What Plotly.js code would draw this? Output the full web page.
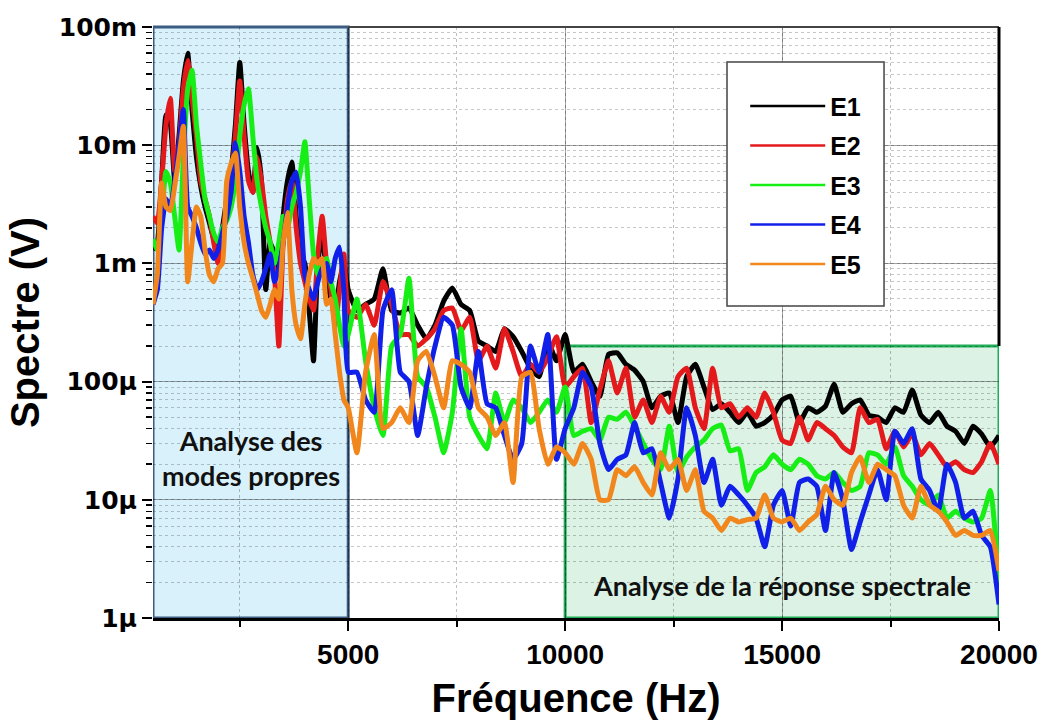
<!DOCTYPE html>
<html>
<head>
<meta charset="utf-8">
<script src="https://cdn.plot.ly/plotly-3.0.1.min.js"></script>
<style>html,body{margin:0;padding:0;background:#fff;}</style>
</head>
<body>
<div id="chart" style="width:1047px;height:720px;"></div>
<script>
// Frequencies (Hz)
const freq = [500,600,700,800,900,1000,1100,1200,1300,1400,1500,1600,1700,1800,1900,2000,2100,2200,2300,2400,2500,2600,2700,2800,2900,3000,3100,3200,3300,3400,3500,3600,3700,3800,3900,4000,4100,4200,4300,4400,4500,4600,4700,4800,4900,5000,
5200,5400,5600,5800,6000,6200,6400,6600,6800,7000,7200,7400,7600,7800,8000,8200,8400,8600,8800,9000,9200,9400,9600,9800,10000,
10200,10400,10600,10800,11000,11200,11400,11600,11800,12000,12200,12400,12600,12800,13000,13200,13400,13600,13800,14000,14200,14400,14600,14800,15000,
15200,15400,15600,15800,16000,16200,16400,16600,16800,17000,17200,17400,17600,17800,18000,18200,18400,18600,18800,19000,19200,19400,19600,19800,20000];

// Spectra in microvolts (µV)
const E1 = [1300,1500,5000,18000,15000,5000,12000,35000,60000,20000,8000,4500,3000,2200,1600,1200,2000,3500,6000,15000,50000,15000,6000,4000,9500,5000,600,1500,1200,800,2500,5000,7200,2500,1200,1000,400,150,1000,1800,800,500,400,700,1000,600,
400,450,500,900,400,380,420,300,230,300,480,620,450,400,220,200,180,280,240,180,130,110,220,150,250,
120,140,100,75,170,175,140,125,100,60,75,80,45,110,140,90,58,65,55,45,55,42,45,52,70,
75,45,60,55,62,95,55,65,70,52,50,45,60,55,85,52,45,55,42,38,30,42,36,28,35];

const E2 = [2500,2200,5000,15000,25000,6000,10000,30000,52000,25000,12000,5000,3500,2500,1500,1000,1800,3000,5000,12000,35000,12000,5000,4000,8000,5000,2500,1500,800,200,1500,3500,5000,2000,1000,700,500,400,1200,2500,1000,600,300,600,1200,400,
350,450,300,700,450,250,250,200,230,280,400,420,270,350,150,200,130,280,180,110,140,120,160,240,90,
110,130,45,85,150,80,130,50,70,45,75,55,110,130,60,40,130,60,65,50,60,50,80,55,32,
30,50,32,45,40,35,28,25,60,45,48,27,38,28,36,24,30,24,19,21,18,17,21,30,20];

const E3 = [1600,1300,2500,6000,4800,2500,1300,8000,30000,43000,15000,7000,3500,2500,1800,1500,2000,2300,3000,5000,12000,22000,30000,12000,5000,3000,2000,1500,1000,1500,2500,2000,3000,4000,6000,10700,3500,1200,800,1000,1100,700,500,300,200,250,
500,150,60,35,200,250,750,110,90,50,25,55,280,50,35,27,80,45,70,60,45,55,70,55,90,
35,38,40,32,50,48,55,42,30,22,18,42,17,23,28,32,40,43,26,27,12,17,19,24,20,
18,22,20,16,15,17,14,12,13,25,24,20,28,16,13,10,9,11,7,8,7,6.5,7,12,2];

const E4 = [450,600,2000,3500,3000,5000,10000,20000,3000,2500,2000,1500,1200,1300,1100,1300,1800,2500,4000,10500,6000,2500,1500,800,600,700,900,1200,700,900,1500,3000,5000,5900,3000,800,600,500,700,900,1000,700,1100,1380,600,120,
120,70,55,400,600,120,100,35,90,200,350,300,90,60,180,65,60,35,22,30,200,120,250,22,40,
60,120,90,30,18,22,24,45,25,27,14,7,15,60,35,14,22,9,13,11,9,7,4,9,12,
6,14,15,13,5.5,17,10,3.8,6.5,11,18,10,38,30,40,15,12,8,20,14,7,8,5,4,1.3];

const E5 = [450,800,4800,3000,2800,4500,8000,14500,700,1500,3000,2500,1300,800,700,900,1000,5000,7000,8600,3000,1500,1000,750,550,400,350,450,600,500,1500,2700,600,300,230,450,800,1100,1000,1100,450,500,250,120,70,60,
25,120,250,40,45,60,45,150,180,110,60,150,140,120,60,50,35,45,14,110,120,40,20,28,25,
20,30,22,10,10,18,16,19,14,11,25,18,22,12,18,8,7,5.5,7,6.5,6.8,7,11,7,6.5,
7,5.5,6.5,7.5,13,10,9,17,23,14,20,18,16,9,7,13,9,8,6.5,5,5.5,5,5,5.5,2.5];

const seriesNames = ['E1','E2','E3','E4','E5'];
const seriesData = [E1,E2,E3,E4,E5];
const seriesColors = ['#000000','#e3191c','#16ee16','#1020e8','#f0861c'];

const xTickVals = [5000,10000,15000,20000];
const xTickText = ['5000','10000','15000','20000'];
const yTickVals = [1e-6,1e-5,1e-4,1e-3,1e-2,1e-1];
const yTickText = ['1µ','10µ','100µ','1m','10m','100m'];

const toVolts = 1e-6;

const dataTraces = seriesNames.map((n,i)=>({
  type:'scatter', mode:'lines', name:n, legendgroup:n, showlegend:false,
  x:freq, y:seriesData[i].map(v=>v*toVolts),
  line:{color:seriesColors[i], width:5, shape:'spline', smoothing:0.45}
}));
// legend entries (thinner key lines, as in the original legend)
const legendTraces = seriesNames.map((n,i)=>({
  type:'scatter', mode:'lines', name:n, legendgroup:n, showlegend:true,
  x:[null], y:[null],
  line:{color:seriesColors[i], width:2.5}
}));

const layout = {
  width:1047, height:720,
  margin:{l:153,r:48,t:27,b:102},
  paper_bgcolor:'#ffffff', plot_bgcolor:'rgba(0,0,0,0)',
  font:{family:'Liberation Sans, Arial, sans-serif', color:'#000'},
  showlegend:true,
  legend:{x:0.70, y:0.905, xanchor:'left', yanchor:'top', bgcolor:'rgba(0,0,0,0)', borderwidth:0,
    font:{family:'Liberation Sans, Arial, sans-serif', size:25, color:'#000', weight:'bold'},
    itemwidth:75, tracegroupgap:4},
  xaxis:{type:'linear', range:[500,20000], tickmode:'array', tickvals:xTickVals, ticktext:xTickText,
    ticks:'outside', ticklen:10, tickwidth:2, tickcolor:'#000',
    showline:true, linecolor:'#000', linewidth:2.5, mirror:false, zeroline:false,
    showgrid:true, gridcolor:'rgba(0,0,0,0.35)', gridwidth:1,
    tickfont:{family:'Liberation Sans, Arial, sans-serif', size:28, color:'#000', weight:'bold'},
    minor:{tickmode:'linear', tick0:0, dtick:2500, ticks:'outside', ticklen:6, tickwidth:2, tickcolor:'#000', showgrid:true, gridcolor:'rgba(0,0,0,0.25)', griddash:'dot', gridwidth:1},
    title:{text:'Fréquence (Hz)', font:{family:'Liberation Sans, Arial, sans-serif', size:40, color:'#000', weight:'bold'}, standoff:16},
    automargin:false},
  yaxis:{type:'log', range:[-6,-1], tickmode:'array', tickvals:yTickVals, ticktext:yTickText,
    ticks:'outside', ticklen:10, tickwidth:2, tickcolor:'#000',
    showline:false, zeroline:false,
    showgrid:true, gridcolor:'rgba(0,0,0,0.35)', gridwidth:1,
    tickfont:{family:'DejaVu Sans, sans-serif', size:25, color:'#000', weight:'bold'},
    minor:{dtick:'D1', ticks:'outside', ticklen:6, tickwidth:1.5, tickcolor:'#000', showgrid:true, gridcolor:'rgba(0,0,0,0.22)', griddash:'dot', gridwidth:1},
    title:{text:'Spectre (V)', font:{family:'Liberation Sans, Arial, sans-serif', size:40, color:'#000', weight:'bold'}, standoff:6},
    automargin:false},
  shapes:[
    {type:'rect', xref:'x', yref:'paper', x0:500, x1:5000, y0:0, y1:1, fillcolor:'#d9f1fb', line:{color:'#3d5c82', width:3}, layer:'below'},
    {type:'rect', xref:'x', yref:'y', x0:10000, x1:20000, y0:1e-6, y1:2e-4, fillcolor:'#dbf2e5', line:{color:'#1fae57', width:3}, layer:'below'},
    {type:'line', xref:'x', yref:'paper', x0:5000, x1:20000, y0:1, y1:1, line:{color:'#444', width:2}, layer:'above'},
    {type:'line', xref:'paper', yref:'y', x0:1, x1:1, y0:2e-4, y1:1e-1, line:{color:'#000', width:3}, layer:'above'},
    {type:'rect', xref:'paper', yref:'paper', x0:0.6785, x1:0.8641, y0:0.5279, y1:0.9408, fillcolor:'#ffffff', line:{color:'#444', width:1.5}, layer:'above'}
  ],
  annotations:[
    {xref:'x', yref:'paper', x:2750, y:0.2707, yanchor:'middle', xanchor:'center', text:'Analyse des<br>modes propres', showarrow:false,
      font:{family:'Lato, sans-serif', size:27, color:'#111', weight:'bold'}, align:'center'},
    {xref:'x', yref:'paper', x:15000, y:0.0558, yanchor:'middle', xanchor:'center', text:'Analyse de la réponse spectrale', showarrow:false,
      font:{family:'Lato, sans-serif', size:27, color:'#111', weight:'bold'}, align:'center'}
  ]
};

Plotly.newPlot('chart', dataTraces.concat(legendTraces), layout, {displayModeBar:false, staticPlot:true});
</script>
</body>
</html>
